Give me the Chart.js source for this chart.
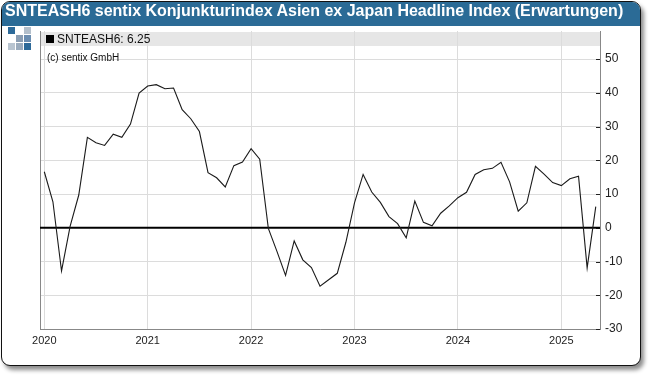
<!DOCTYPE html>
<html>
<head>
<meta charset="utf-8">
<script src="https://cdn.jsdelivr.net/npm/chart.js@4.4.1/dist/chart.umd.min.js"></script>
<style>
  html, body { margin: 0; padding: 0; background: #ffffff; }
  body { width: 650px; height: 376px; position: relative; overflow: hidden; font-family: "Liberation Sans", Arial, sans-serif; }
  #frame { position: absolute; left: 1px; top: 1px; width: 638px; height: 363px; border: 1.5px solid #111; border-radius: 9px; background: #fff; box-shadow: 3px 4px 4px rgba(0,0,0,0.45); overflow: hidden; }
  #titlebar { position: absolute; left: 0; top: 0; width: 100%; height: 24px; background: #2b6b96; }
  #title { position: absolute; left: 5px; top: 2px; color: #fff; font-weight: bold; font-size: 16px; white-space: nowrap; }
  #chart { position: absolute; left: 0; top: 0; }
  #legend { position: absolute; left: 46px; top: 32px; font-size: 12px; color: #111; white-space: nowrap; }
  #legend .sw { display: inline-block; width: 8px; height: 8px; background: #000; margin-right: 3px; }
  #copy { position: absolute; left: 47px; top: 52px; font-size: 10px; color: #111; white-space: nowrap; }
  .logo { position: absolute; width: 7px; height: 7px; }
</style>
</head>
<body>
<div id="frame"><div id="titlebar"></div></div>
<canvas id="chart" width="650" height="376"></canvas>
<div id="title">SNTEASH6 sentix Konjunkturindex Asien ex Japan Headline Index (Erwartungen)</div>
<div id="legend"><span class="sw"></span>SNTEASH6: 6.25</div>
<div id="copy">(c) sentix GmbH</div>
<div class="logo" style="left:8px;top:27px;background:#2d6a99"></div>
<div class="logo" style="left:24px;top:27px;background:#b3bfcb"></div>
<div class="logo" style="left:16px;top:35px;background:#8a9db2"></div>
<div class="logo" style="left:24px;top:35px;background:#6b8db0"></div>
<div class="logo" style="left:8px;top:43px;background:#b8c4d0"></div>
<div class="logo" style="left:16px;top:43px;background:#9aabbd"></div>
<div class="logo" style="left:24px;top:43px;background:#2d6a99"></div>
<script>
// Monthly observations, Jan 2020 .. May 2025
const months = [
  '2020-01','2020-02','2020-03','2020-04','2020-05','2020-06','2020-07','2020-08','2020-09','2020-10','2020-11','2020-12',
  '2021-01','2021-02','2021-03','2021-04','2021-05','2021-06','2021-07','2021-08','2021-09','2021-10','2021-11','2021-12',
  '2022-01','2022-02','2022-03','2022-04','2022-05','2022-06','2022-07','2022-08','2022-09','2022-10','2022-11','2022-12',
  '2023-01','2023-02','2023-03','2023-04','2023-05','2023-06','2023-07','2023-08','2023-09','2023-10','2023-11','2023-12',
  '2024-01','2024-02','2024-03','2024-04','2024-05','2024-06','2024-07','2024-08','2024-09','2024-10','2024-11','2024-12',
  '2025-01','2025-02','2025-03','2025-04','2025-05'
];
const values = [
  16.6, 7.7, -12.8, 0.5, 9.7, 26.8, 25.2, 24.4, 27.7, 26.8, 30.7, 39.9,
  42.0, 42.4, 41.2, 41.4, 35.0, 32.3, 28.5, 16.3, 14.8, 12.1, 18.4, 19.5,
  23.4, 20.3, -0.2, -7.0, -14.1, -3.9, -9.5, -11.8, -17.3, -15.4, -13.5, -4.3,
  7.4, 15.8, 10.6, 7.5, 3.3, 1.2, -3.0, 7.9, 1.6, 0.6, 4.3, 6.5,
  8.9, 10.5, 15.8, 17.2, 17.6, 19.4, 13.6, 4.9, 7.4, 18.2, 15.9, 13.4,
  12.5, 14.5, 15.3, -11.9, 6.25
];
const xTickYears = [2020, 2021, 2022, 2023, 2024, 2025];
const yTickValues = [-30, -20, -10, 0, 10, 20, 30, 40, 50];

const points = months.map((m, i) => {
  const [yr, mo] = m.split('-').map(Number);
  return { x: yr + (mo - 1) / 12, y: values[i] };
});

const FONT = "'Liberation Sans', Arial, sans-serif";

const decor = {
  id: 'decor',
  beforeDraw(chart) {
    const { ctx, chartArea: a } = chart;
    ctx.save();
    ctx.fillStyle = '#e6e6e6';
    ctx.fillRect(a.left, a.top + 1, a.right - a.left, 14);
    ctx.restore();
  },
  beforeDatasetsDraw(chart) {
    const { ctx, chartArea: a, scales } = chart;
    ctx.save();
    ctx.strokeStyle = '#888';
    ctx.lineWidth = 1;
    ctx.beginPath();
    ctx.moveTo(a.left + 0.5, a.top);
    ctx.lineTo(a.left + 0.5, a.bottom);
    ctx.stroke();
    ctx.strokeStyle = '#222';
    yTickValues.forEach(v => {
      const py = Math.round(scales.y.getPixelForValue(v)) + 0.5;
      ctx.beginPath();
      ctx.moveTo(a.right - 4, py);
      ctx.lineTo(a.right, py);
      ctx.stroke();
    });
    const y0 = scales.y.getPixelForValue(0);
    ctx.strokeStyle = '#000';
    ctx.lineWidth = 2;
    ctx.beginPath();
    ctx.moveTo(a.left, y0);
    ctx.lineTo(a.right, y0);
    ctx.stroke();
    ctx.restore();
  }
};

new Chart(document.getElementById('chart'), {
  type: 'line',
  data: {
    datasets: [{
      data: points,
      borderColor: '#1a1a1a',
      borderWidth: 1.1,
      pointRadius: 0,
      tension: 0,
      fill: false
    }]
  },
  options: {
    responsive: false,
    animation: false,
    devicePixelRatio: 1,
    layout: { padding: { left: 40, right: 10, top: 31, bottom: 27 } },
    plugins: { legend: { display: false }, tooltip: { enabled: false } },
    scales: {
      x: {
        type: 'linear',
        min: 2020 - 4.3 / 103.4,
        max: 2020 + 555.7 / 103.4,
        afterBuildTicks: s => { s.ticks = xTickYears.map(v => ({ value: v })); },
        afterFit: s => { s.height = 20; },
        grid: { color: '#dcdcdc', drawTicks: false },
        border: { color: '#888' },
        ticks: { callback: v => String(v), padding: 5, maxRotation: 0, autoSkip: false, color: '#222', font: { size: 11, family: FONT } }
      },
      y: {
        position: 'right',
        min: -30,
        max: 50 + 28 / 3.375,
        afterBuildTicks: s => { s.ticks = yTickValues.map(v => ({ value: v })); },
        afterFit: s => { s.width = 40; },
        grid: { color: '#dcdcdc', drawTicks: false },
        border: { color: '#888' },
        ticks: { padding: 5, color: '#222', font: { size: 12, family: FONT } }
      }
    }
  },
  plugins: [decor]
});
</script>
</body>
</html>
